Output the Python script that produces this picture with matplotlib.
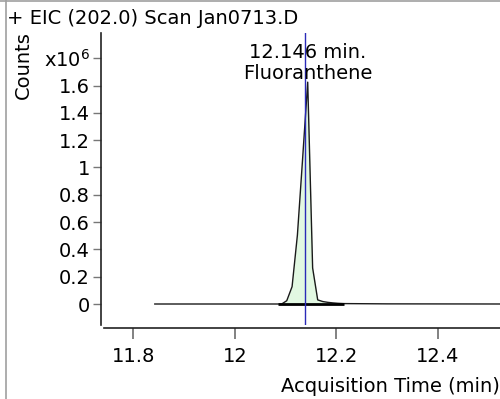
import matplotlib
matplotlib.use("Agg")
import matplotlib.pyplot as plt
from matplotlib.lines import Line2D
import numpy as np

plt.rcParams['font.family'] = ['DejaVu Sans']

# ---- data (counts in units of 1e6) ----
times = [11.842, 12.084, 12.092, 12.102, 12.1125, 12.123, 12.133, 12.1433,
         12.153, 12.163, 12.173, 12.183, 12.193, 12.203, 12.215, 12.30, 12.53]
counts = [0.0, 0.0, 0.0, 0.024, 0.127, 0.505, 1.05, 1.625,
          0.264, 0.03, 0.018, 0.012, 0.008, 0.005, 0.003, 0.001, 0.0]
int_start, int_end = 12.084, 12.215
marker_time = 12.1375
peak_time = 12.1433
peak_label_rt = "12.146 min."
peak_label_name = "Fluoranthene"
title = "+ EIC (202.0) Scan Jan0713.D"
yticks = [0, 0.2, 0.4, 0.6, 0.8, 1.0, 1.2, 1.4, 1.6, 1.8]
yticklabels = ['0', '0.2', '0.4', '0.6', '0.8', '1', '1.2', '1.4', '1.6', 'x10$^6$']
xticks = [11.8, 12.0, 12.2, 12.4]
xticklabels = ['11.8', '12', '12.2', '12.4']

FS = 14
W, H = 500, 399
fig = plt.figure(figsize=(W / 100, H / 100), dpi=100)
ax = fig.add_axes([104 / W, 1 - 325 / H, (500 - 104) / W, (325 - 33) / H])

t = np.array(times)
c = np.array(counts)
mask = (t >= int_start) & (t <= int_end)
ax.fill_between(t[mask], 0, c[mask], color='#e2f8e2', lw=0, zorder=1)
ax.plot(t, c, color='#1a1a1a', lw=1.0, zorder=3)
ax.plot([int_start, int_end], [0, 0], color='black', lw=2.0, zorder=3,
        solid_capstyle='butt')
ax.axvline(marker_time, color='#2a2ab8', lw=1.0, zorder=4)

ax.text(peak_time, 1.839, peak_label_rt, ha='center', va='center', fontsize=FS, zorder=5)
ax.text(peak_time, 1.685, peak_label_name, ha='center', va='center', fontsize=FS, zorder=5)

ax.set_xlim(11.7419, 12.5222)
ax.set_ylim(-0.1538, 1.985)

ax.set_yticks(yticks)
ax.set_yticklabels(yticklabels)
ax.set_xticks(xticks)
ax.set_xticklabels(xticklabels)

for s in ['top', 'right']:
    ax.spines[s].set_visible(False)
ax.spines['left'].set_position(('outward', 2.2))
ax.spines['bottom'].set_position(('outward', 2.2))
for s in ['left', 'bottom']:
    ax.spines[s].set_color('#222222')
    ax.spines[s].set_linewidth(1.2)

ax.tick_params(axis='y', direction='out', length=5.8, width=1.0, color='#777777',
               pad=2.0, labelsize=FS)
ax.tick_params(axis='x', direction='out', length=8, width=1.3, color='#777777',
               pad=6, labelsize=FS)

fig.text(7 / W, 1 - 18 / H, title, ha='left', va='center', fontsize=FS)
fig.text(23 / W, 1 - 65.5 / H, 'Counts', rotation=90, ha='center', va='center', fontsize=FS)
fig.text(0.999, 1 - 387 / H, 'Acquisition Time (min)', ha='right', va='center', fontsize=FS)

fig.add_artist(Line2D([5.5 / W, 5.5 / W], [0, 1], color='#a0a0a0', lw=1.2,
                      transform=fig.transFigure))
fig.add_artist(Line2D([0, 1], [1 - 0.6 / H, 1 - 0.6 / H], color='#a0a0a0', lw=1.2,
                      transform=fig.transFigure))

fig.savefig('out.png', dpi=100)
